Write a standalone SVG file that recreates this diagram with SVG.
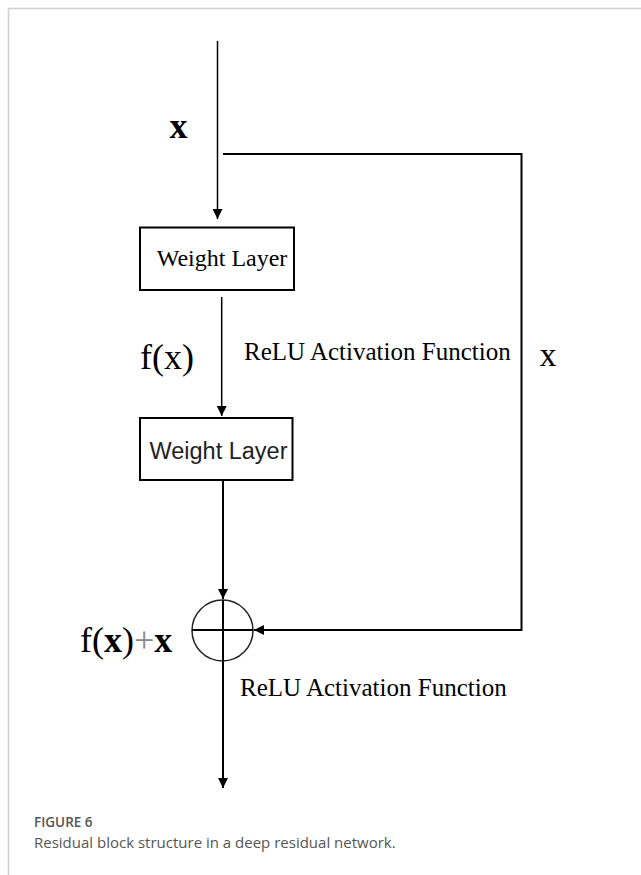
<svg xmlns="http://www.w3.org/2000/svg" width="641" height="875" viewBox="0 0 641 875">
<defs>
<style>
.ln{stroke:#000;stroke-width:2;fill:none}
.thin{stroke:#000;stroke-width:1.5;fill:none}
.box{stroke:#000;stroke-width:2;fill:#fff}
.serif{font-family:"Liberation Serif","Times New Roman",serif;fill:#000}
.sans{font-family:"Liberation Sans",Arial,sans-serif;fill:#222}
.cap{font-family:"Open Sans","Noto Sans",sans-serif;fill:#555}
</style>
<marker id="ah" viewBox="0 0 10 10" refX="10" refY="5" markerWidth="11" markerHeight="10" markerUnits="userSpaceOnUse" orient="auto">
<path d="M0,0 L10,5 L0,10 z" fill="#000"/>
</marker>
</defs>
<rect width="641" height="875" fill="#fff"/>
<path d="M8.5,875 V8.5 H641" stroke="#d0d0d0" stroke-width="1.5" fill="none"/>

<g id="connectors">
<line class="thin" x1="217.5" y1="41" x2="217.5" y2="219" marker-end="url(#ah)"/>
<polyline class="ln" points="223,154 521.5,154 521.5,630 254,630" marker-end="url(#ah)"/>
<line class="thin" x1="221.7" y1="297" x2="221.7" y2="416" marker-end="url(#ah)"/>
<line class="ln" x1="223" y1="480" x2="223" y2="599" marker-end="url(#ah)"/>
<line class="ln" x1="223" y1="600" x2="223" y2="788" marker-end="url(#ah)"/>
</g>

<g id="node-weight1">
<rect class="box" x="140" y="227.5" width="154" height="62.5"/>
<text class="serif" x="222" y="266" font-size="24" text-anchor="middle">Weight Layer</text>
</g>

<g id="node-weight2">
<rect class="box" x="140" y="418" width="152.5" height="62"/>
<text class="sans" x="218.5" y="459" font-size="23.5" text-anchor="middle">Weight Layer</text>
</g>

<g id="node-sum">
<circle cx="222.5" cy="630.5" r="30.5" fill="none" stroke="#222" stroke-width="1.5"/>
<line class="ln" x1="192" y1="630" x2="253" y2="630"/>
<line class="ln" x1="223" y1="600" x2="223" y2="661"/>
</g>

<g id="labels">
<text class="serif" x="178.5" y="138" font-size="36" font-weight="bold" text-anchor="middle">x</text>
<text class="serif" x="140" y="369" font-size="36">f(x)</text>
<text class="serif" x="244" y="360" font-size="25">ReLU Activation Function</text>
<text class="serif" x="548" y="366" font-size="34" text-anchor="middle">x</text>
<text class="serif" x="80" y="652" font-size="36">f(<tspan font-weight="bold">x</tspan>)<tspan fill="#888">+</tspan><tspan font-weight="bold">x</tspan></text>
<text class="serif" x="240" y="696" font-size="25">ReLU Activation Function</text>
</g>

<g id="caption">
<text class="cap" x="34" y="827" font-size="13.5" font-weight="600">FIGURE 6</text>
<text class="cap" x="34" y="848" font-size="15">Residual block structure in a deep residual network.</text>
</g>
</svg>
